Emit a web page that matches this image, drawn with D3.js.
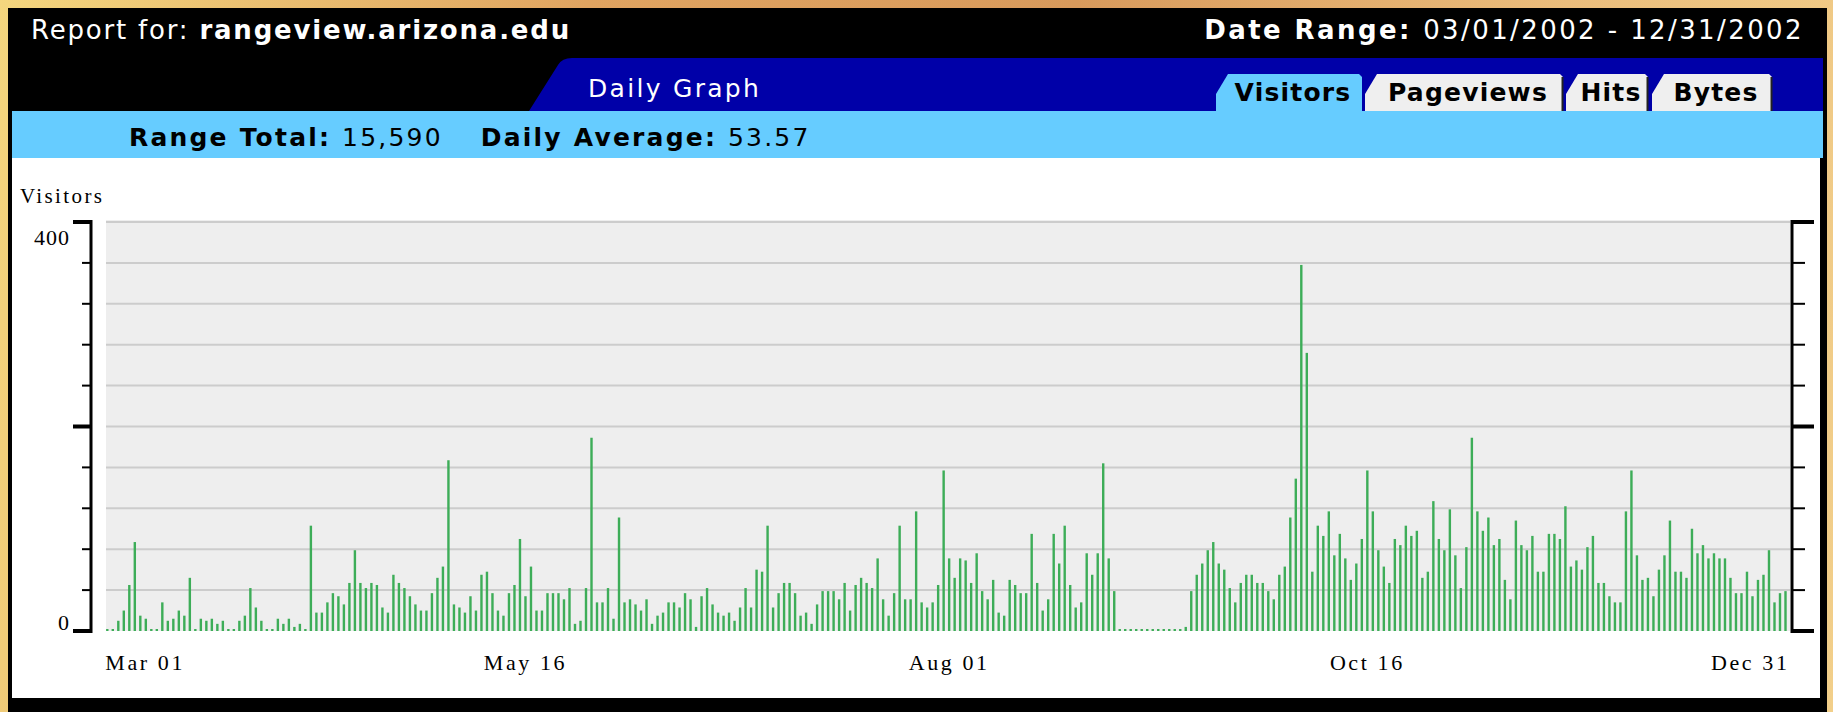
<!DOCTYPE html>
<html>
<head>
<meta charset="utf-8">
<script src="https://cdn.jsdelivr.net/npm/d3@7"></script>
<style>
  html, body { margin: 0; padding: 0; overflow: hidden; }
  body { width: 1833px; height: 712px;
    background: linear-gradient(100deg, #f4d67e 0%, #e0a461 30%, #d89a5c 55%, #ebbd7c 80%, #f2cf8a 100%); }
  svg { display: block; }
</style>
</head>
<body>
<div id="chart"></div>
<script>
// daily visitors, one array per month (2002)
var marVisits = [1,1,10,20,45,87,15,12,1,1,28,10,12,20,15,52,1,12,10,12,7,10,1,1,10,15,42,23,10,1,1];
var aprVisits = [12,7,12,4,7,1,103,18,18,28,37,34,26,47,79,47,42,47,45,23,18,55,47,42,34,26,20,20,37,52];
var mayVisits = [63,167,26,23,18,34,20,55,58,37,20,15,37,45,90,34,63,20,20,37,37,37,31,42,7,10,42,189,28,28,42];
var junVisits = [12,111,28,31,26,20,31,7,15,18,28,28,23,37,31,4,34,42,26,18,15,18,10,23,42,23,60,58,103,23];
var julVisits = [37,47,47,37,15,18,7,26,39,39,39,31,47,20,45,52,47,42,71,31,15,37,103,31,31,117,28,23,28,45,157];
var augVisits = [71,52,71,69,47,76,39,31,50,18,15,50,45,37,37,95,47,20,31,95,66,103,45,23,28,76,55,76,164,71,39];
var sepVisits = [0,0,0,0,0,0,0,0,0,0,0,0,4,39,55,66,79,87,66,60,42,28,47,55,55,47,47,39,31,55];
var octVisits = [63,111,149,358,272,58,103,93,117,74,95,71,50,66,90,157,117,79,63,47,90,84,103,93,98,52,58,127,90,79,119];
var novVisits = [74,42,82,189,117,98,111,84,90,50,31,108,84,79,93,58,58,95,95,90,122,63,69,60,82,93,47,47,34,28];
var decVisits = [28,117,157,74,50,52,34,60,74,108,58,58,52,100,76,84,71,76,71,71,52,37,37,58,34,50,55,79,28,37,39];

var tabNames = ['Visitors', 'Pageviews', 'Hits', 'Bytes'];
var yLabels = [0, 400];
var xLabelDates = ['2002-03-01', '2002-05-16', '2002-08-01', '2002-10-16', '2002-12-31'];

var visits = [].concat(marVisits, aprVisits, mayVisits, junVisits, julVisits,
  augVisits, sepVisits, octVisits, novVisits, decVisits);
var days = d3.utcDay.range(Date.UTC(2002, 2, 1), Date.UTC(2003, 0, 1));
var data = days.map(function(d, i) { return {date: d, v: visits[i]}; });

var W = 1833, H = 712;
var svg = d3.select('#chart').append('svg')
  .attr('width', W)
  .attr('height', H);

var sans = '"DejaVu Sans", Verdana, sans-serif';
var serif = '"Liberation Serif", "DejaVu Serif", serif';

// frame
svg.append('rect').attr('x', 8).attr('y', 8).attr('width', 1819).attr('height', H - 8).attr('fill', '#000');

// top line texts
var t1 = svg.append('text').attr('x', 31).attr('y', 39)
  .attr('fill', '#fff').attr('font-family', sans).attr('font-size', 26).attr('letter-spacing', 1.8);
t1.append('tspan').text('Report for: ');
t1.append('tspan').attr('font-weight', 'bold').text('rangeview.arizona.edu');

var t2 = svg.append('text').attr('x', 1804).attr('y', 39).attr('text-anchor', 'end')
  .attr('fill', '#fff').attr('font-family', sans).attr('font-size', 26).attr('letter-spacing', 2.4);
t2.append('tspan').attr('font-weight', 'bold').text('Date Range: ');
t2.append('tspan').text('03/01/2002 - 12/31/2002');

// blue band with slanted left edge
svg.append('path')
  .attr('d', 'M529,111 L558,65 Q562,58 572,58 L1823,58 L1823,111 Z')
  .attr('fill', '#0000a8');
svg.append('text').attr('x', 588).attr('y', 97)
  .attr('fill', '#fff').attr('font-family', sans).attr('font-size', 25).attr('letter-spacing', 2.3)
  .text('Daily Graph');

// tabs
var tabX = [[1216, 1362], [1365, 1563], [1566, 1648], [1652, 1772]];
var tabs = svg.append('g');
tabNames.forEach(function(name, i) {
  var x0 = tabX[i][0], x1 = tabX[i][1];
  tabs.append('path')
    .attr('d', 'M' + x0 + ',112 L' + x0 + ',94 L' + (x0 + 12) + ',74 L' + (x1 - 3) + ',74 L' + x1 + ',77 L' + x1 + ',112 Z')
    .attr('fill', i === 0 ? '#66ccff' : '#efefef');
  if (i > 0) {
    tabs.append('line').attr('x1', x1 - 0.5).attr('x2', x1 - 0.5).attr('y1', 77).attr('y2', 111)
      .attr('stroke', '#222').attr('stroke-width', 2);
  }
  tabs.append('text').attr('x', (x0 + x1) / 2 + 4).attr('y', 101).attr('text-anchor', 'middle')
    .attr('font-family', sans).attr('font-weight', 'bold').attr('font-size', 25).attr('letter-spacing', 1.2)
    .attr('fill', '#000')
    .text(name);
});

// light blue summary band
svg.append('rect').attr('x', 12).attr('y', 111).attr('width', 1811).attr('height', 47).attr('fill', '#66ccff');
var t3 = svg.append('text').attr('x', 129).attr('y', 146)
  .attr('fill', '#000').attr('font-family', sans).attr('font-size', 25).attr('letter-spacing', 2.2);
t3.append('tspan').attr('font-weight', 'bold').text('Range Total: ');
t3.append('tspan').text('15,590');
t3.append('tspan').attr('font-weight', 'bold').attr('dx', 38).text('Daily Average: ');
t3.append('tspan').text('53.57');

// white panel
svg.append('rect').attr('x', 12).attr('y', 158).attr('width', 1808).attr('height', 540).attr('fill', '#fff');

// scales
var plotLeft = 106, plotRight = 1790, plotTop = 222, plotBottom = 631;
var x = d3.scaleUtc()
  .domain([days[0], days[days.length - 1]])
  .range([107.3, 1785.5]);
var y = d3.scaleLinear().domain([0, 400]).range([plotBottom, plotTop]);

// plot background + grid
svg.append('rect').attr('x', plotLeft).attr('y', plotTop - 2)
  .attr('width', plotRight - plotLeft).attr('height', plotBottom - plotTop + 2)
  .attr('fill', '#eeeeee');
svg.append('g').selectAll('line').data(d3.range(40, 401, 40)).enter().append('line')
  .attr('x1', plotLeft).attr('x2', plotRight)
  .attr('y1', function(d) { return y(d); })
  .attr('y2', function(d) { return y(d); })
  .attr('stroke', '#cccccc').attr('stroke-width', 2);

// bars
svg.append('g').selectAll('rect').data(data).enter().append('rect')
  .attr('x', function(d) { return x(d.date) - 1.2; })
  .attr('width', 2.4)
  .attr('y', function(d) { return Math.min(y(d.v), plotBottom - 2); })
  .attr('height', function(d) { return Math.max(plotBottom - y(d.v), 2); })
  .attr('fill', '#3dad58');

// left and right axes
var tickVals = d3.range(0, 401, 40);
var axL = svg.append('g');
axL.append('line').attr('x1', 91).attr('x2', 91).attr('y1', plotTop - 2).attr('y2', plotBottom + 2)
  .attr('stroke', '#000').attr('stroke-width', 3);
axL.selectAll('line.t').data(tickVals).enter().append('line')
  .attr('x1', function(d) { return d % 200 === 0 ? 73 : 82; })
  .attr('x2', 92)
  .attr('y1', function(d) { return y(d); })
  .attr('y2', function(d) { return y(d); })
  .attr('stroke', '#000')
  .attr('stroke-width', function(d) { return d % 200 === 0 ? 4 : 2; });
var axR = svg.append('g');
axR.append('line').attr('x1', 1792).attr('x2', 1792).attr('y1', plotTop - 2).attr('y2', plotBottom + 2)
  .attr('stroke', '#000').attr('stroke-width', 3);
axR.selectAll('line.t').data(tickVals).enter().append('line')
  .attr('x1', 1791)
  .attr('x2', function(d) { return d % 200 === 0 ? 1814 : 1805; })
  .attr('y1', function(d) { return y(d); })
  .attr('y2', function(d) { return y(d); })
  .attr('stroke', '#000')
  .attr('stroke-width', function(d) { return d % 200 === 0 ? 4 : 2; });

// axis texts
svg.append('text').attr('x', 20).attr('y', 203)
  .attr('font-family', serif).attr('font-size', 21).attr('letter-spacing', 2.4).attr('fill', '#000')
  .text('Visitors');
svg.append('g').selectAll('text').data(yLabels).enter().append('text')
  .attr('x', 70)
  .attr('y', function(d) { return d === 0 ? 630 : 245; })
  .attr('text-anchor', 'end')
  .attr('font-family', serif).attr('font-size', 22).attr('letter-spacing', 1).attr('fill', '#000')
  .text(function(d) { return d; });

var fmt = d3.utcFormat('%b %d');
svg.append('g').selectAll('text').data(xLabelDates).enter().append('text')
  .attr('x', function(d) { return x(new Date(d)); })
  .attr('y', 670)
  .attr('text-anchor', function(d, i) { return i === 0 ? 'start' : (i === xLabelDates.length - 1 ? 'end' : 'middle'); })
  .attr('dx', function(d, i) { return i === 0 ? -2 : (i === xLabelDates.length - 1 ? 4 : 0); })
  .attr('font-family', serif).attr('font-size', 22).attr('letter-spacing', 2.6).attr('fill', '#000')
  .text(function(d) { return fmt(new Date(d)); });
</script>
</body>
</html>
